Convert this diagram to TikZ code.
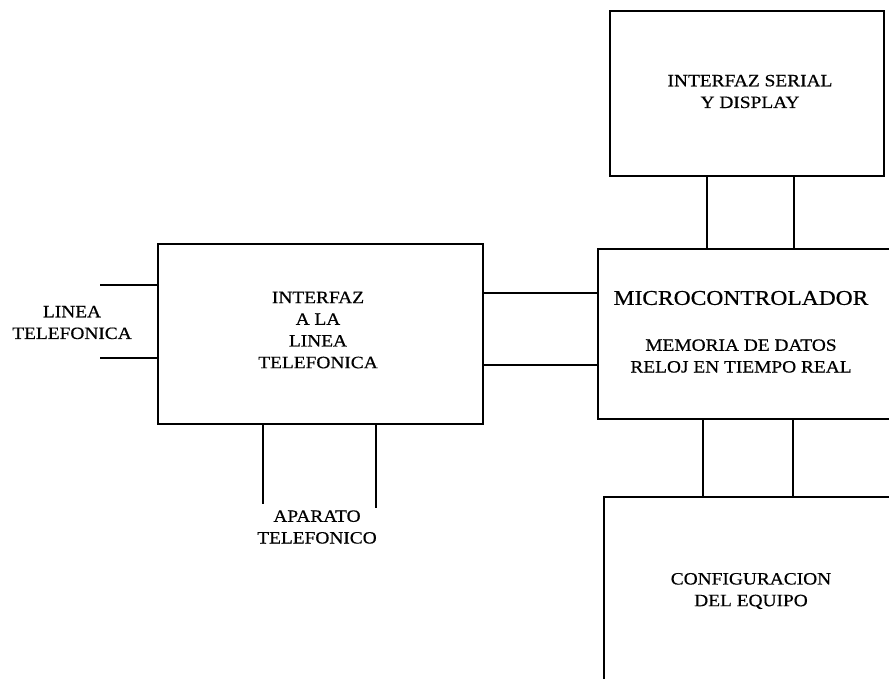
\documentclass[tikz,border=0pt]{standalone}
\usepackage{fontspec}
\setmainfont[FakeStretch=1.12,FakeBold=0.6]{Liberation Serif}
\begin{document}
\begin{tikzpicture}[x=1pt,y=-1pt,
  box/.style={draw, line width=2.3pt, inner sep=0pt, anchor=north west},
  wire/.style={line width=2.3pt},
  lbl/.style={align=center, inner sep=0pt, font=\fontsize{17.3}{21.7}\selectfont},
  big/.style={inner sep=0pt, font=\fontsize{21}{24}\selectfont}]
\useasboundingbox (0,0) rectangle (889,678);
\clip (0,0) rectangle (889,678);
% boxes
\node[box, minimum width=325pt, minimum height=180pt] (iface) at (157,243) {};
\node[box, minimum width=274pt, minimum height=165pt] (serial) at (609,10) {};
\node[box, minimum width=363pt, minimum height=170pt] (micro) at (597,248) {};
\node[box, minimum width=357pt, minimum height=185pt] (config) at (603,496) {};
% texts
\node[lbl] (tiface) at (318,330) {INTERFAZ\\A LA\\LINEA\\TELEFONICA};
\node[lbl] (tserial) at (750,91.5) {INTERFAZ SERIAL\\Y DISPLAY};
\node[big] (tmicro) at (741,298) {MICROCONTROLADOR};
\node[lbl] (tmicro2) at (741,356) {MEMORIA DE DATOS\\RELOJ EN TIEMPO REAL};
\node[lbl] (tconfig) at (751,591) {CONFIGURACION\\DEL EQUIPO};
\node[lbl] (tlinea) at (72,322.5) {LINEA\\TELEFONICA};
\node[lbl] (taparato) at (317,527) {APARATO\\TELEFONICO};
% free ends
\coordinate (la) at (100,285);
\coordinate (lb) at (100,358);
\coordinate (aa) at (263,504);
\coordinate (ab) at (376,508);
% connectors
\draw[wire] (la) -- (la -| iface.west);
\draw[wire] (lb) -- (lb -| iface.west);
\draw[wire] (aa |- iface.south) -- (aa);
\draw[wire] (ab |- iface.south) -- (ab);
\draw[wire] (iface.east |- 0,293) -- (micro.west |- 0,293);
\draw[wire] (iface.east |- 0,365) -- (micro.west |- 0,365);
\draw[wire] (707,0 |- serial.south) -- (707,0 |- micro.north);
\draw[wire] (794,0 |- serial.south) -- (794,0 |- micro.north);
\draw[wire] (703,0 |- micro.south) -- (703,0 |- config.north);
\draw[wire] (793,0 |- micro.south) -- (793,0 |- config.north);
\end{tikzpicture}
\end{document}
